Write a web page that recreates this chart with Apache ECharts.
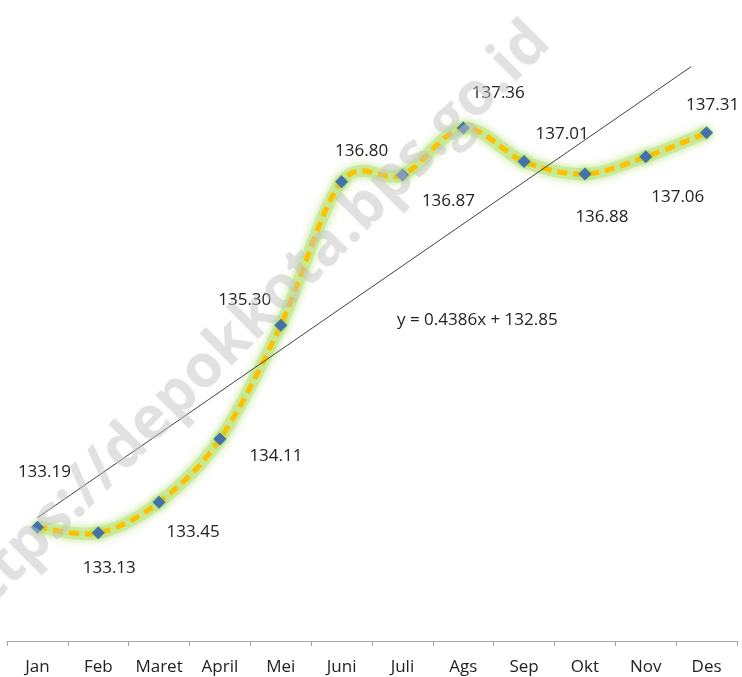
<!DOCTYPE html>
<html>
<head>
<meta charset="utf-8">
<script src="https://cdn.jsdelivr.net/npm/echarts@6/dist/echarts.min.js"></script>
<style>
  html, body { margin: 0; padding: 0; background: #fff; }
  #chart { width: 742px; height: 677px; }
</style>
</head>
<body>
<div id="chart"></div>
<script>
// bulan
const months = ['Jan', 'Feb', 'Maret', 'April', 'Mei', 'Juni', 'Juli', 'Ags', 'Sep', 'Okt', 'Nov', 'Des'];
// nilai per bulan
const values = [133.19, 133.13, 133.45, 134.11, 135.30, 136.80, 136.87, 137.36, 137.01, 136.88, 137.06, 137.31];
// garis tren y = 0.4386x + 132.85
const trendSlope = 0.4386;
const trendIntercept = 132.85;
const trendX = [1, 11.75];

// geser label (dx, dy) dari titik
const labelOffsets = [
  [7, -55], [11, 35], [34, 30], [56, 17], [-36, -25], [20, -31],
  [46, 26], [35, -35], [38, -27], [17, 43], [32, 40], [6, -28]
];

const FONT = '"Open Sans", "Noto Sans", sans-serif';

let chart = echarts.init(document.getElementById('chart'));

// kurva halus ala Excel (Catmull-Rom), titik lewat skala sumbu
function renderCurve(params, api) {
  if (params.dataIndex !== 0) return;
  let pts = values.map((v, i) => api.coord([i, v]));
  let d = 'M' + pts[0][0] + ' ' + pts[0][1];
  for (let i = 0; i < pts.length - 1; i++) {
    let p0 = pts[Math.max(i - 1, 0)];
    let p1 = pts[i];
    let p2 = pts[i + 1];
    let p3 = pts[Math.min(i + 2, pts.length - 1)];
    let c1x = p1[0] + (p2[0] - p0[0]) / 6;
    let c1y = p1[1] + (p2[1] - p0[1]) / 6;
    let c2x = p2[0] - (p3[0] - p1[0]) / 6;
    let c2y = p2[1] - (p3[1] - p1[1]) / 6;
    d += ' C' + c1x + ' ' + c1y + ' ' + c2x + ' ' + c2y + ' ' + p2[0] + ' ' + p2[1];
  }
  return {
    type: 'group',
    children: [
      {
        type: 'path',
        shape: { pathData: d },
        style: {
          fill: 'none',
          stroke: 'rgba(196,232,140,0.75)',
          lineWidth: 12,
          shadowBlur: 8,
          shadowColor: 'rgba(160,215,90,0.9)'
        }
      },
      {
        type: 'path',
        shape: { pathData: d },
        style: { fill: 'none', stroke: '#ffc000', lineWidth: 5, lineDash: [10, 6] }
      }
    ]
  };
}

let option = {
  animation: false,
  grid: { left: 7, right: 5, top: 19, bottom: 36 },
  xAxis: [
    {
      type: 'category',
      data: months,
      boundaryGap: true,
      axisLine: { lineStyle: { color: '#a6a6a6', width: 1 } },
      axisTick: { show: true, interval: 0, length: 5, lineStyle: { color: '#a6a6a6' } },
      axisLabel: { interval: 0, color: '#222', fontFamily: FONT, fontSize: 17, margin: 18 }
    },
    { type: 'value', min: 0.5, max: 12.5, show: false }
  ],
  yAxis: { type: 'value', min: 132, max: 138.5, show: false },
  series: [
    {
      type: 'custom',
      data: values,
      renderItem: renderCurve,
      silent: true,
      clip: false,
      z: 1
    },
    {
      type: 'line',
      xAxisIndex: 1,
      data: trendX.map(x => [x, trendSlope * x + trendIntercept]),
      showSymbol: false,
      silent: true,
      lineStyle: { color: '#404040', width: 1 },
      z: 3
    },
    {
      type: 'line',
      data: values.map((v, i) => ({
        value: v,
        label: { offset: labelOffsets[i] }
      })),
      symbol: 'diamond',
      symbolSize: 13,
      itemStyle: { color: '#4472a8', shadowBlur: 6, shadowColor: 'rgba(150,215,80,0.9)' },
      lineStyle: { width: 0, opacity: 0 },
      label: {
        show: true,
        position: 'inside',
        color: '#222',
        fontFamily: FONT,
        fontSize: 17,
        formatter: p => p.value.toFixed(2)
      },
      z: 4
    }
  ],
  graphic: [
    {
      type: 'text',
      left: 397,
      top: 312,
      style: { text: 'y = 0.4386x + 132.85', fill: '#222', font: '17px ' + FONT }
    },
    {
      type: 'text',
      x: 246,
      y: 327,
      rotation: Math.PI / 4,
      z: 100,
      silent: true,
      style: {
        text: 'https://depokkota.bps.go.id',
        fill: 'rgba(195,195,195,0.5)',
        font: 'bold 60px ' + FONT,
        align: 'center',
        verticalAlign: 'middle'
      }
    }
  ]
};

chart.setOption(option);
</script>
</body>
</html>
